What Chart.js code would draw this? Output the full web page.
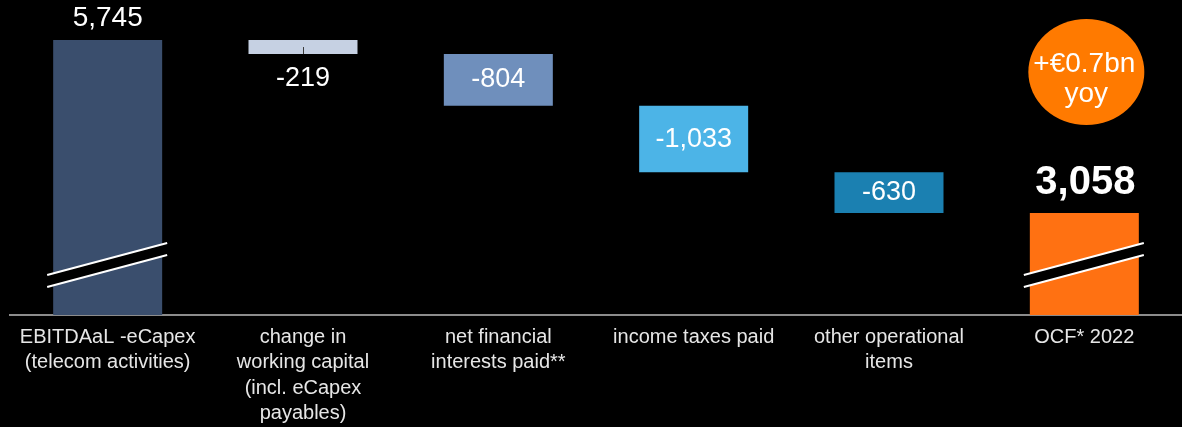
<!DOCTYPE html>
<html>
<head>
<meta charset="utf-8">
<title>OCF 2022 bridge</title>
<script src="https://cdn.jsdelivr.net/npm/chart.js@4.4.0/dist/chart.umd.min.js"></script>
<style>
  html, body { margin: 0; padding: 0; background: #000; }
  #wrap { width: 1182px; height: 427px; position: relative; }
</style>
</head>
<body>
<div id="wrap"><canvas id="ocf-bridge"></canvas></div>
<script>
// ---- data (€m) ----
const categories = [
  ['EBITDAaL -eCapex', '(telecom activities)'],
  ['change in', 'working capital', '(incl. eCapex', 'payables)'],
  ['net financial', 'interests paid**'],
  ['income taxes paid'],
  ['other operational', 'items'],
  ['OCF* 2022']
];
const values = [5745, -219, -804, -1033, -630, 3058];
const valueLabels = ['5,745', '-219', '-804', '-1,033', '-630', '3,058'];
const isTotal = [true, false, false, false, false, true];
const barColors = ['#3a4e6d', '#c6d1e3', '#6f8fbc', '#4cb4e7', '#1b80b1', '#ff7112'];
const yoyLabel = ['+€0.7bn', 'yoy'];

// the value axis is cut, visible range starts well above zero
const axisFloor = 1474;
const axisTop = 6366;

const FONT = "'Liberation Sans', Arial, sans-serif";

// waterfall ranges: totals sit on the (cut) floor, steps hang from the running total
let running = 0;
const ranges = values.map((v, i) => {
  if (isTotal[i]) {
    running = v;
    return [axisFloor, v];
  }
  const start = running;
  running += v;
  return [running, start];
});

const overlayPlugin = {
  id: 'bridgeOverlay',
  afterDatasetsDraw(chart) {
    const ctx = chart.ctx;
    const meta = chart.getDatasetMeta(0);
    const bottom = chart.chartArea.bottom;

    ctx.save();
    meta.data.forEach((bar, i) => {
      const top = Math.min(bar.y, bar.base);
      const low = Math.max(bar.y, bar.base);
      const left = bar.x - bar.width / 2;
      const right = bar.x + bar.width / 2;

      // axis-break marks on the total bars
      if (isTotal[i]) {
        const x0 = left - 6, x1 = right + 5;
        const y0 = bottom - 40, y1 = bottom - 72, gap = 12;
        ctx.fillStyle = '#000';
        ctx.beginPath();
        ctx.moveTo(x0, y0);
        ctx.lineTo(x1, y1);
        ctx.lineTo(x1, y1 + gap);
        ctx.lineTo(x0, y0 + gap);
        ctx.closePath();
        ctx.fill();
        ctx.strokeStyle = '#fff';
        ctx.lineWidth = 2;
        ctx.beginPath();
        ctx.moveTo(x0, y0);
        ctx.lineTo(x1, y1);
        ctx.moveTo(x0, y0 + gap);
        ctx.lineTo(x1, y1 + gap);
        ctx.stroke();
      }

      // small connector tick inside the thin working-capital bar
      if (i === 1) {
        ctx.strokeStyle = '#3b3b3b';
        ctx.lineWidth = 1;
        ctx.beginPath();
        ctx.moveTo(Math.round(bar.x) + 0.5, (top + low) / 2);
        ctx.lineTo(Math.round(bar.x) + 0.5, low);
        ctx.stroke();
      }

      // value labels
      ctx.fillStyle = '#fff';
      ctx.textAlign = 'center';
      ctx.textBaseline = 'middle';
      if (i === 0) {
        ctx.font = '28px ' + FONT;
        ctx.fillText(valueLabels[i], bar.x, top - 22);
      } else if (i === 1) {
        ctx.font = '27px ' + FONT;
        ctx.fillText(valueLabels[i], bar.x, low + 24);
      } else if (i === values.length - 1) {
        ctx.font = 'bold 40px ' + FONT;
        ctx.fillText(valueLabels[i], bar.x + 1, top - 30);

        // yoy bubble above the closing bar
        const cx = bar.x + 2, cy = top - 141;
        ctx.fillStyle = '#ff7a00';
        ctx.beginPath();
        ctx.ellipse(cx, cy, 58, 53, 0, 0, Math.PI * 2);
        ctx.fill();
        ctx.fillStyle = '#fff';
        ctx.font = '28px ' + FONT;
        ctx.fillText(yoyLabel[0], cx - 2, cy - 8);
        ctx.fillText(yoyLabel[1], cx, cy + 22);
      } else {
        ctx.font = '27px ' + FONT;
        ctx.fillText(valueLabels[i], bar.x, (top + low) / 2);
      }
    });
    ctx.restore();
  }
};

new Chart(document.getElementById('ocf-bridge'), {
  type: 'bar',
  data: {
    labels: categories,
    datasets: [{
      data: ranges,
      backgroundColor: barColors,
      borderWidth: 0,
      barPercentage: 0.558,
      categoryPercentage: 1
    }]
  },
  options: {
    responsive: true,
    maintainAspectRatio: false,
    animation: false,
    layout: { padding: { left: 10, right: 0, top: 0, bottom: 0 } },
    plugins: {
      legend: { display: false },
      tooltip: { enabled: false }
    },
    scales: {
      x: {
        grid: { display: false, drawTicks: false },
        border: { display: true, color: '#8c8c8c', width: 2 },
        ticks: {
          color: '#e6e6e6',
          font: { family: FONT, size: 20, lineHeight: 1.26 },
          maxRotation: 0,
          autoSkip: false,
          padding: 10
        },
        afterFit(scale) {
          scale.height = 112;
        }
      },
      y: {
        display: false,
        min: axisFloor,
        max: axisTop
      }
    }
  },
  plugins: [overlayPlugin]
});
</script>
</body>
</html>
